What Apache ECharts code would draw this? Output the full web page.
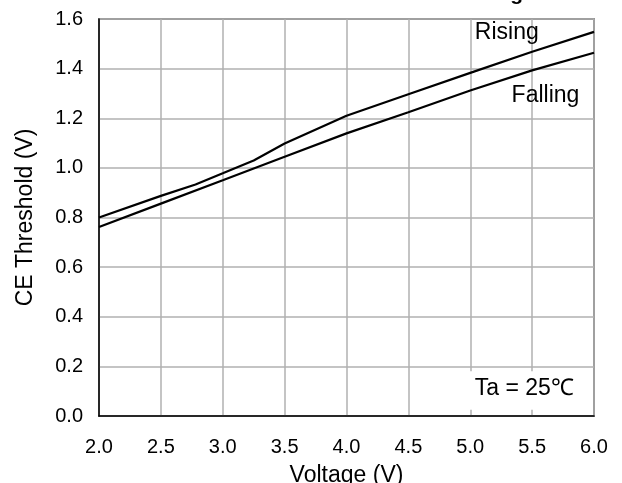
<!DOCTYPE html>
<html>
<head>
<meta charset="utf-8">
<script src="https://cdn.jsdelivr.net/npm/echarts@6/dist/echarts.min.js"></script>
<style>
html,body{margin:0;padding:0;background:#fff;}
#c{width:622px;height:483px;}
</style>
</head>
<body>
<div id="c"></div>
<script>
var titleText = 'CE Threshold vs. Voltage';
var xName = 'Voltage (V)';
var yName = 'CE Threshold (V)';
var risingX = [2.0, 2.5, 2.78, 3.0, 3.25, 3.5, 4.0, 4.5, 5.0, 5.5, 6.0];
var risingY = [0.800, 0.887, 0.933, 0.978, 1.030, 1.098, 1.210, 1.297, 1.383, 1.468, 1.548];
var fallingX = [2.0, 2.5, 3.0, 3.5, 4.0, 4.5, 5.0, 5.5, 6.0];
var fallingY = [0.762, 0.856, 0.950, 1.045, 1.139, 1.224, 1.312, 1.393, 1.464];
var labelRising = 'Rising';
var labelFalling = 'Falling';
var labelTa = 'Ta = 25\u2103';

function pairs(xs, ys){ return xs.map(function(x,i){ return [x, ys[i]]; }); }

var font = '"Liberation Sans", Arial, sans-serif';
var chart = echarts.init(document.getElementById('c'), null, {renderer:'canvas'});
var option = {
  animation: false,
  backgroundColor: '#fff',
  title: {
    text: titleText, left: 278, top: -21,
    textStyle: {fontFamily: font, fontSize: 21, fontWeight: 'bold', color: '#000'}
  },
  grid: {left: 99, right: 28, top: 19, bottom: 67, outerBoundsMode: 'none', containLabel: false,
    show: true, borderColor: '#444', borderWidth: 1.5, backgroundColor: 'transparent'},
  xAxis: {
    type: 'value', min: 2.0, max: 6.0, interval: 0.5,
    name: xName, nameLocation: 'middle', nameGap: 48,
    nameTextStyle: {fontFamily: font, fontSize: 23, color: '#000'},
    axisLine: {show: true, lineStyle: {color: '#000', width: 1.5}},
    axisTick: {show: false},
    axisLabel: {fontFamily: font, fontSize: 20, color: '#000', margin: 21,
      formatter: function(v){ return v.toFixed(1); }},
    splitLine: {show: true, lineStyle: {color: '#b0b0b0', width: 1.5}}
  },
  yAxis: {
    type: 'value', min: 0, max: 1.6, interval: 0.2,
    name: yName, nameLocation: 'middle', nameGap: 62,
    nameTextStyle: {fontFamily: font, fontSize: 23, color: '#000'},
    axisLine: {show: true, lineStyle: {color: '#000', width: 1.5}},
    axisTick: {show: false},
    axisLabel: {fontFamily: font, fontSize: 20, color: '#000', margin: 16,
      formatter: function(v){ return v.toFixed(1); }},
    splitLine: {show: true, lineStyle: {color: '#b0b0b0', width: 1.5}}
  },
  series: [
    {name: labelRising, type: 'line', data: pairs(risingX, risingY), showSymbol: false, symbol: 'none',
      lineStyle: {color: '#000', width: 2.2}, z: 3},
    {name: labelFalling, type: 'line', data: pairs(fallingX, fallingY), showSymbol: false, symbol: 'none',
      lineStyle: {color: '#000', width: 2.2}, z: 3}
  ]
};
chart.setOption(option);

function px(x, y){ return chart.convertToPixel({gridIndex: 0}, [x, y]); }
var pR = px(5.037, 1.543);
var pF = px(5.334, 1.293);
var pT = px(5.037, 0.112);
var boxTL = px(4.73, 0.18);
var boxBR = px(5.97, 0.025);
chart.setOption({
  graphic: [
    {type: 'rect', z: 2, shape: {x: boxTL[0], y: boxTL[1], width: boxBR[0]-boxTL[0], height: boxBR[1]-boxTL[1]},
      style: {fill: '#fff'}},
    {type: 'text', z: 10, x: pR[0], y: pR[1], style: {text: labelRising, font: '23px ' + font, fill: '#000', textAlign: 'left', textVerticalAlign: 'middle'}},
    {type: 'text', z: 10, x: pF[0], y: pF[1], style: {text: labelFalling, font: '23px ' + font, fill: '#000', textAlign: 'left', textVerticalAlign: 'middle'}},
    {type: 'text', z: 10, x: pT[0], y: pT[1], style: {text: labelTa, font: '23px ' + font, fill: '#000', textAlign: 'left', textVerticalAlign: 'middle'}}
  ]
});
</script>
</body>
</html>
